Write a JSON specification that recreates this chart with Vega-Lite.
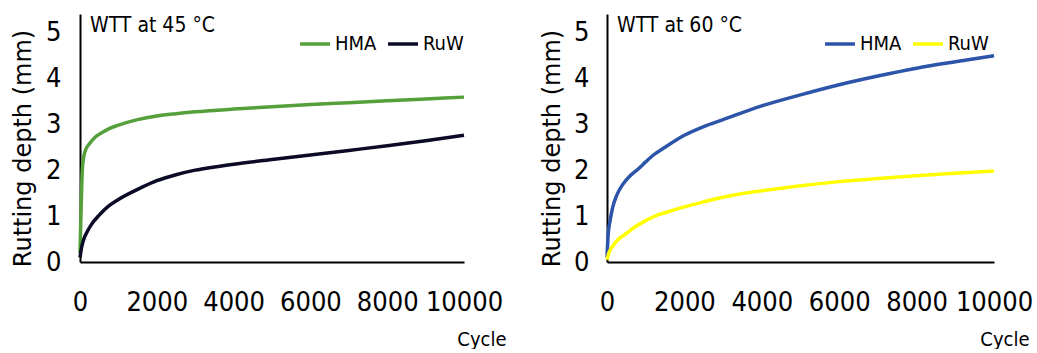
{
  "$schema": "https://vega.github.io/schema/vega-lite/v6.json",
  "padding": {"left": 10, "top": 14, "right": 0, "bottom": 0},
  "background": "white",
  "config": {
    "view": {"stroke": null},
    "font": "DejaVu Sans Condensed, sans-serif",
    "concat": {"spacing": 143},
    "axis": {
      "grid": false, "ticks": false, "domainColor": "black", "domainWidth": 2,
      "labelFont": "DejaVu Sans Condensed, sans-serif",
      "labelFontSize": 27, "labelColor": "black", "labelOverlap": false, "format": "d",
      "titleFontWeight": "normal", "titleColor": "black"
    },
    "legend": {
      "orient": "none", "direction": "horizontal", "title": null,
      "symbolType": "stroke", "symbolSize": 900, "symbolStrokeWidth": 3.5,
      "labelFont": "DejaVu Sans Condensed, sans-serif",
      "labelFontSize": 20, "labelColor": "black", "labelOffset": 3, "columnPadding": 4
    },
    "title": {
      "font": "DejaVu Sans Condensed, sans-serif",
      "fontSize": 21, "fontWeight": "normal", "color": "black",
      "anchor": "start", "frame": "group", "baseline": "alphabetic", "offset": -22, "dx": 10
    }
  },
  "bounds": "flush",
  "datasets": {
    "d45": [
      {"series": "HMA", "cycle": 0, "depth": 0.2},
      {"series": "HMA", "cycle": 30, "depth": 1.2},
      {"series": "HMA", "cycle": 60, "depth": 2.0},
      {"series": "HMA", "cycle": 100, "depth": 2.3},
      {"series": "HMA", "cycle": 150, "depth": 2.45},
      {"series": "HMA", "cycle": 250, "depth": 2.58},
      {"series": "HMA", "cycle": 400, "depth": 2.72},
      {"series": "HMA", "cycle": 600, "depth": 2.83},
      {"series": "HMA", "cycle": 800, "depth": 2.92},
      {"series": "HMA", "cycle": 1000, "depth": 2.98},
      {"series": "HMA", "cycle": 1500, "depth": 3.1},
      {"series": "HMA", "cycle": 2000, "depth": 3.18},
      {"series": "HMA", "cycle": 2500, "depth": 3.23},
      {"series": "HMA", "cycle": 3000, "depth": 3.27},
      {"series": "HMA", "cycle": 4000, "depth": 3.33},
      {"series": "HMA", "cycle": 5000, "depth": 3.38},
      {"series": "HMA", "cycle": 6000, "depth": 3.43},
      {"series": "HMA", "cycle": 7000, "depth": 3.47},
      {"series": "HMA", "cycle": 8000, "depth": 3.51},
      {"series": "HMA", "cycle": 9000, "depth": 3.55},
      {"series": "HMA", "cycle": 10000, "depth": 3.59},
      {"series": "RuW", "cycle": 0, "depth": 0.1},
      {"series": "RuW", "cycle": 50, "depth": 0.35},
      {"series": "RuW", "cycle": 100, "depth": 0.5},
      {"series": "RuW", "cycle": 200, "depth": 0.68},
      {"series": "RuW", "cycle": 300, "depth": 0.82},
      {"series": "RuW", "cycle": 500, "depth": 1.02},
      {"series": "RuW", "cycle": 750, "depth": 1.22},
      {"series": "RuW", "cycle": 1000, "depth": 1.36},
      {"series": "RuW", "cycle": 1500, "depth": 1.58},
      {"series": "RuW", "cycle": 2000, "depth": 1.77},
      {"series": "RuW", "cycle": 2500, "depth": 1.9},
      {"series": "RuW", "cycle": 3000, "depth": 2.0},
      {"series": "RuW", "cycle": 3500, "depth": 2.07},
      {"series": "RuW", "cycle": 4000, "depth": 2.13},
      {"series": "RuW", "cycle": 5000, "depth": 2.23},
      {"series": "RuW", "cycle": 6000, "depth": 2.33},
      {"series": "RuW", "cycle": 7000, "depth": 2.43},
      {"series": "RuW", "cycle": 8000, "depth": 2.53},
      {"series": "RuW", "cycle": 9000, "depth": 2.64},
      {"series": "RuW", "cycle": 10000, "depth": 2.76}
    ],
    "d60": [
      {"series": "HMA", "cycle": 0, "depth": 0.1},
      {"series": "HMA", "cycle": 30, "depth": 0.6},
      {"series": "HMA", "cycle": 80, "depth": 0.9},
      {"series": "HMA", "cycle": 150, "depth": 1.2},
      {"series": "HMA", "cycle": 250, "depth": 1.45},
      {"series": "HMA", "cycle": 400, "depth": 1.68},
      {"series": "HMA", "cycle": 600, "depth": 1.88},
      {"series": "HMA", "cycle": 800, "depth": 2.02},
      {"series": "HMA", "cycle": 1000, "depth": 2.18},
      {"series": "HMA", "cycle": 1200, "depth": 2.33},
      {"series": "HMA", "cycle": 1500, "depth": 2.5},
      {"series": "HMA", "cycle": 2000, "depth": 2.76},
      {"series": "HMA", "cycle": 2500, "depth": 2.95},
      {"series": "HMA", "cycle": 3000, "depth": 3.1},
      {"series": "HMA", "cycle": 4000, "depth": 3.4},
      {"series": "HMA", "cycle": 5000, "depth": 3.64},
      {"series": "HMA", "cycle": 6000, "depth": 3.86},
      {"series": "HMA", "cycle": 7000, "depth": 4.05},
      {"series": "HMA", "cycle": 8000, "depth": 4.22},
      {"series": "HMA", "cycle": 9000, "depth": 4.36},
      {"series": "HMA", "cycle": 10000, "depth": 4.49},
      {"series": "RuW", "cycle": 0, "depth": 0.05},
      {"series": "RuW", "cycle": 50, "depth": 0.2},
      {"series": "RuW", "cycle": 150, "depth": 0.35},
      {"series": "RuW", "cycle": 300, "depth": 0.5},
      {"series": "RuW", "cycle": 500, "depth": 0.62},
      {"series": "RuW", "cycle": 700, "depth": 0.75},
      {"series": "RuW", "cycle": 1000, "depth": 0.9},
      {"series": "RuW", "cycle": 1300, "depth": 1.02},
      {"series": "RuW", "cycle": 1600, "depth": 1.1},
      {"series": "RuW", "cycle": 2000, "depth": 1.2},
      {"series": "RuW", "cycle": 2500, "depth": 1.31},
      {"series": "RuW", "cycle": 3000, "depth": 1.41},
      {"series": "RuW", "cycle": 3500, "depth": 1.49},
      {"series": "RuW", "cycle": 4000, "depth": 1.55},
      {"series": "RuW", "cycle": 5000, "depth": 1.66},
      {"series": "RuW", "cycle": 6000, "depth": 1.75},
      {"series": "RuW", "cycle": 7000, "depth": 1.82},
      {"series": "RuW", "cycle": 8000, "depth": 1.88},
      {"series": "RuW", "cycle": 9000, "depth": 1.93},
      {"series": "RuW", "cycle": 10000, "depth": 1.98}
    ]
  },
  "hconcat": [
    {
      "width": 384, "height": 248,
      "data": {"name": "d45"},
      "title": {"text": "WTT at 45 °C"},
      "mark": {"type": "line", "interpolate": "monotone", "strokeWidth": 3.5},
      "encoding": {
        "x": {"field": "cycle", "type": "quantitative",
              "scale": {"domain": [0, 10000], "nice": false},
              "axis": {"values": [0, 2000, 4000, 6000, 8000, 10000], "labelPadding": 27, "labelFlush": false,
                       "title": "Cycle", "titleFontSize": 20, "titleX": 426, "titleY": 77,
                       "titleAlign": "right", "titleBaseline": "middle",
                       "titleFont": "DejaVu Sans Condensed, sans-serif"}},
        "y": {"field": "depth", "type": "quantitative",
              "scale": {"domain": [0, 5.4], "nice": false},
              "axis": {"values": [0, 1, 2, 3, 4, 5], "labelPadding": 19, "labelFlush": false,
                       "title": "Rutting depth (mm)", "titleFont": "DejaVu Sans", "titleFontSize": 24,
                       "titleX": -57, "titleY": 134, "titleAngle": -90,
                       "titleAlign": "center", "titleBaseline": "middle"}},
        "color": {"field": "series", "type": "nominal",
                  "scale": {"domain": ["HMA", "RuW"], "range": ["#55a03a", "#0b0b28"]},
                  "legend": {"legendX": 218, "legendY": 13}}
      }
    },
    {
      "width": 387, "height": 248,
      "data": {"name": "d60"},
      "title": {"text": "WTT at 60 °C"},
      "mark": {"type": "line", "interpolate": "monotone", "strokeWidth": 3.5},
      "encoding": {
        "x": {"field": "cycle", "type": "quantitative",
              "scale": {"domain": [0, 10000], "nice": false},
              "axis": {"values": [0, 2000, 4000, 6000, 8000, 10000], "labelPadding": 27, "labelFlush": false,
                       "title": "Cycle", "titleFontSize": 20, "titleX": 422, "titleY": 77,
                       "titleAlign": "right", "titleBaseline": "middle",
                       "titleFont": "DejaVu Sans Condensed, sans-serif"}},
        "y": {"field": "depth", "type": "quantitative",
              "scale": {"domain": [0, 5.4], "nice": false},
              "axis": {"values": [0, 1, 2, 3, 4, 5], "labelPadding": 18, "labelFlush": false,
                       "title": "Rutting depth (mm)", "titleFont": "DejaVu Sans", "titleFontSize": 24,
                       "titleX": -55, "titleY": 134, "titleAngle": -90,
                       "titleAlign": "center", "titleBaseline": "middle"}},
        "color": {"field": "series", "type": "nominal",
                  "scale": {"domain": ["HMA", "RuW"], "range": ["#2c54a8", "#ffff00"]},
                  "legend": {"legendX": 216, "legendY": 13}}
      }
    }
  ],
  "resolve": {"scale": {"color": "independent"}, "legend": {"color": "independent"}}
}
